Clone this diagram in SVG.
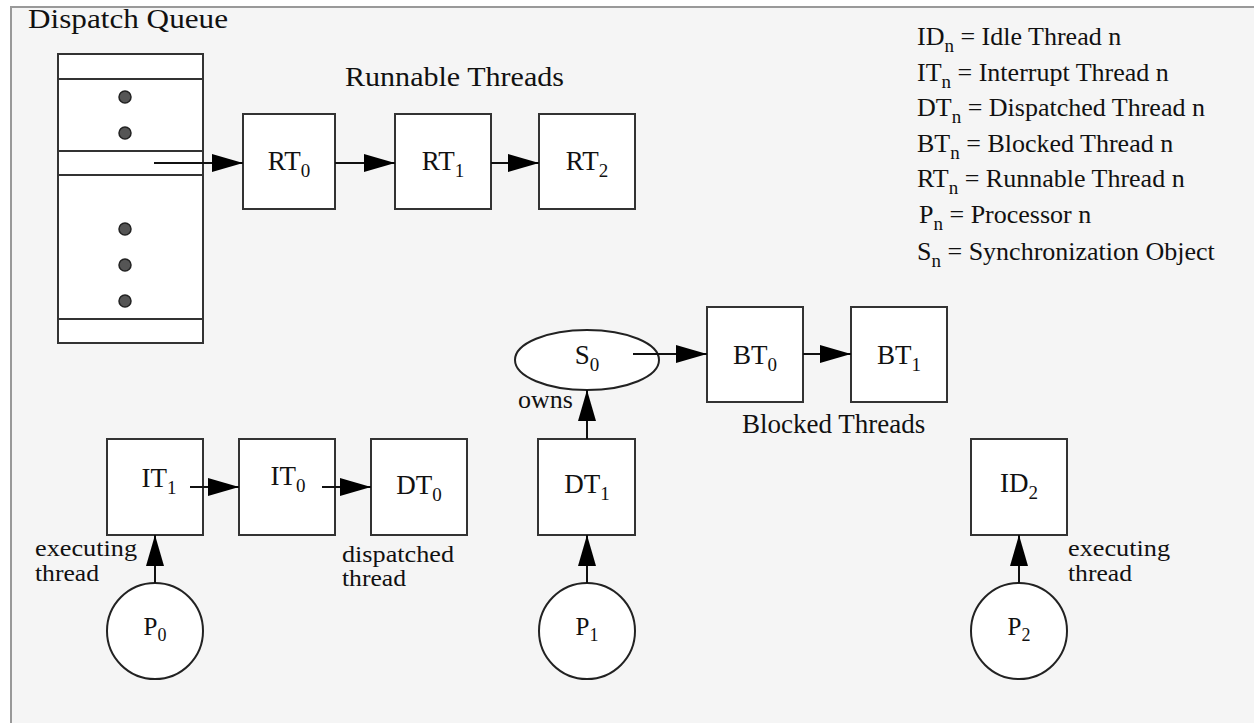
<svg xmlns="http://www.w3.org/2000/svg" width="1254" height="723" viewBox="0 0 1254 723" font-family="'Liberation Serif', 'Times New Roman', serif">
  <defs>
    <marker id="arrow" viewBox="0 0 31 18" refX="31" refY="9" markerWidth="31" markerHeight="18" markerUnits="userSpaceOnUse" orient="auto">
      <path d="M0,0 L31,9 L0,18 Z" fill="#000"/>
    </marker>
    <style>
      text { font-family: "Liberation Serif", "Times New Roman", serif; fill: #111; }
      .lbl { font-size: 27px; text-anchor: middle; }
      .plbl { font-size: 25px; text-anchor: middle; }
      .cap { font-size: 27px; }
      .note { font-size: 26px; }
      .note2 { font-size: 24px; }
      .box { fill: #fff; stroke: #333; stroke-width: 2; }
      .node { fill: #fff; stroke: #222; stroke-width: 2; }
      .dot { fill: #555; stroke: #222; stroke-width: 1.5; }
      .edge { fill: none; stroke: #111; stroke-width: 2; marker-end: url(#arrow); }
      .sep { stroke: #333; stroke-width: 2; }
    </style>
  </defs>

  <!-- page background and panel -->
  <rect x="0" y="0" width="1254" height="723" fill="#fff"/>
  <rect x="11" y="7" width="1260" height="730" fill="#f5f5f5" stroke="#999" stroke-width="2"/>

  <!-- dispatch queue -->
  <g id="dispatch-queue">
    <text class="cap" x="28" y="28" textLength="200" lengthAdjust="spacingAndGlyphs">Dispatch Queue</text>
    <rect class="box" x="58" y="54" width="145" height="289"/>
    <line class="sep" x1="58" y1="79" x2="203" y2="79"/>
    <line class="sep" x1="58" y1="151" x2="203" y2="151"/>
    <line class="sep" x1="58" y1="175" x2="203" y2="175"/>
    <line class="sep" x1="58" y1="319" x2="203" y2="319"/>
    <circle class="dot" cx="125" cy="97" r="6"/>
    <circle class="dot" cx="125" cy="133" r="6"/>
    <circle class="dot" cx="125" cy="229" r="6"/>
    <circle class="dot" cx="125" cy="265" r="6"/>
    <circle class="dot" cx="125" cy="301" r="6"/>
  </g>

  <text class="cap" x="345" y="86" textLength="219" lengthAdjust="spacingAndGlyphs">Runnable Threads</text>

  <g id="RT0"><rect class="box" x="243" y="114" width="92" height="95"/><text class="lbl" x="289" y="170">RT<tspan font-size="19" dy="7">0</tspan></text></g>
  <g id="RT1"><rect class="box" x="395" y="114" width="96" height="95"/><text class="lbl" x="443" y="170">RT<tspan font-size="19" dy="7">1</tspan></text></g>
  <g id="RT2"><rect class="box" x="539" y="114" width="96" height="95"/><text class="lbl" x="587" y="170">RT<tspan font-size="19" dy="7">2</tspan></text></g>

  <!-- legend -->
  <g id="legend" class="note">
    <text x="917" y="45">ID<tspan font-size="19" dy="7">n</tspan><tspan dy="-7"> = Idle Thread n</tspan></text>
    <text x="917" y="81">IT<tspan font-size="19" dy="7">n</tspan><tspan dy="-7"> = Interrupt Thread n</tspan></text>
    <text x="917" y="116">DT<tspan font-size="19" dy="7">n</tspan><tspan dy="-7"> = Dispatched Thread n</tspan></text>
    <text x="917" y="152">BT<tspan font-size="19" dy="7">n</tspan><tspan dy="-7"> = Blocked Thread n</tspan></text>
    <text x="917" y="187">RT<tspan font-size="19" dy="7">n</tspan><tspan dy="-7"> = Runnable Thread n</tspan></text>
    <text x="919" y="223">P<tspan font-size="19" dy="7">n</tspan><tspan dy="-7"> = Processor n</tspan></text>
    <text x="917" y="260">S<tspan font-size="19" dy="7">n</tspan><tspan dy="-7"> = Synchronization Object</tspan></text>
  </g>

  <!-- synchronization object and blocked threads -->
  <g id="S0"><ellipse class="node" cx="587" cy="360" rx="72" ry="30"/><text class="lbl" x="587" y="364">S<tspan font-size="19" dy="7">0</tspan></text></g>
  <g id="BT0"><rect class="box" x="707" y="307" width="96" height="95"/><text class="lbl" x="755" y="364">BT<tspan font-size="19" dy="7">0</tspan></text></g>
  <g id="BT1"><rect class="box" x="851" y="307" width="96" height="95"/><text class="lbl" x="899" y="364">BT<tspan font-size="19" dy="7">1</tspan></text></g>
  <text class="cap" x="742" y="433">Blocked Threads</text>
  <text class="note" x="518" y="408">owns</text>

  <!-- thread boxes on the processors -->
  <g id="IT1"><rect class="box" x="107" y="439" width="96" height="96"/><text class="lbl" x="159" y="487">IT<tspan font-size="19" dy="7">1</tspan></text></g>
  <g id="IT0"><rect class="box" x="239" y="439" width="96" height="96"/><text class="lbl" x="288" y="485">IT<tspan font-size="19" dy="7">0</tspan></text></g>
  <g id="DT0"><rect class="box" x="371" y="439" width="96" height="96"/><text class="lbl" x="419" y="494">DT<tspan font-size="19" dy="7">0</tspan></text></g>
  <g id="DT1"><rect class="box" x="538" y="439" width="97" height="96"/><text class="lbl" x="587" y="493">DT<tspan font-size="19" dy="7">1</tspan></text></g>
  <g id="ID2"><rect class="box" x="971" y="439" width="96" height="96"/><text class="lbl" x="1019" y="492">ID<tspan font-size="19" dy="7">2</tspan></text></g>

  <!-- two-line annotations -->
  <text class="note2" x="35" y="556" textLength="102" lengthAdjust="spacingAndGlyphs">executing</text>
  <text class="note2" x="35" y="581" textLength="64" lengthAdjust="spacingAndGlyphs">thread</text>
  <text class="note2" x="342" y="562" textLength="112" lengthAdjust="spacingAndGlyphs">dispatched</text>
  <text class="note2" x="342" y="586" textLength="64" lengthAdjust="spacingAndGlyphs">thread</text>
  <text class="note2" x="1068" y="556" textLength="102" lengthAdjust="spacingAndGlyphs">executing</text>
  <text class="note2" x="1068" y="581" textLength="64" lengthAdjust="spacingAndGlyphs">thread</text>

  <!-- processors -->
  <g id="P0"><circle class="node" cx="155" cy="631" r="48"/><text class="plbl" x="155" y="635">P<tspan font-size="18" dy="6">0</tspan></text></g>
  <g id="P1"><circle class="node" cx="587" cy="631" r="48"/><text class="plbl" x="587" y="635">P<tspan font-size="18" dy="6">1</tspan></text></g>
  <g id="P2"><circle class="node" cx="1019" cy="631" r="48"/><text class="plbl" x="1019" y="635">P<tspan font-size="18" dy="6">2</tspan></text></g>

  <!-- connectors -->
  <g id="connectors">
    <line class="edge" x1="154" y1="163" x2="243" y2="163"/>
    <line class="edge" x1="335" y1="163" x2="395" y2="163"/>
    <line class="edge" x1="491" y1="163" x2="539" y2="163"/>
    <line class="edge" x1="633" y1="354" x2="707" y2="354"/>
    <line class="edge" x1="803" y1="354" x2="851" y2="354"/>
    <line class="edge" x1="587" y1="439" x2="587" y2="390"/>
    <line class="edge" x1="190" y1="487" x2="239" y2="487"/>
    <line class="edge" x1="322" y1="487" x2="371" y2="487"/>
    <line class="edge" x1="155" y1="583" x2="155" y2="535"/>
    <line class="edge" x1="587" y1="583" x2="587" y2="535"/>
    <line class="edge" x1="1019" y1="583" x2="1019" y2="535"/>
  </g>
</svg>
